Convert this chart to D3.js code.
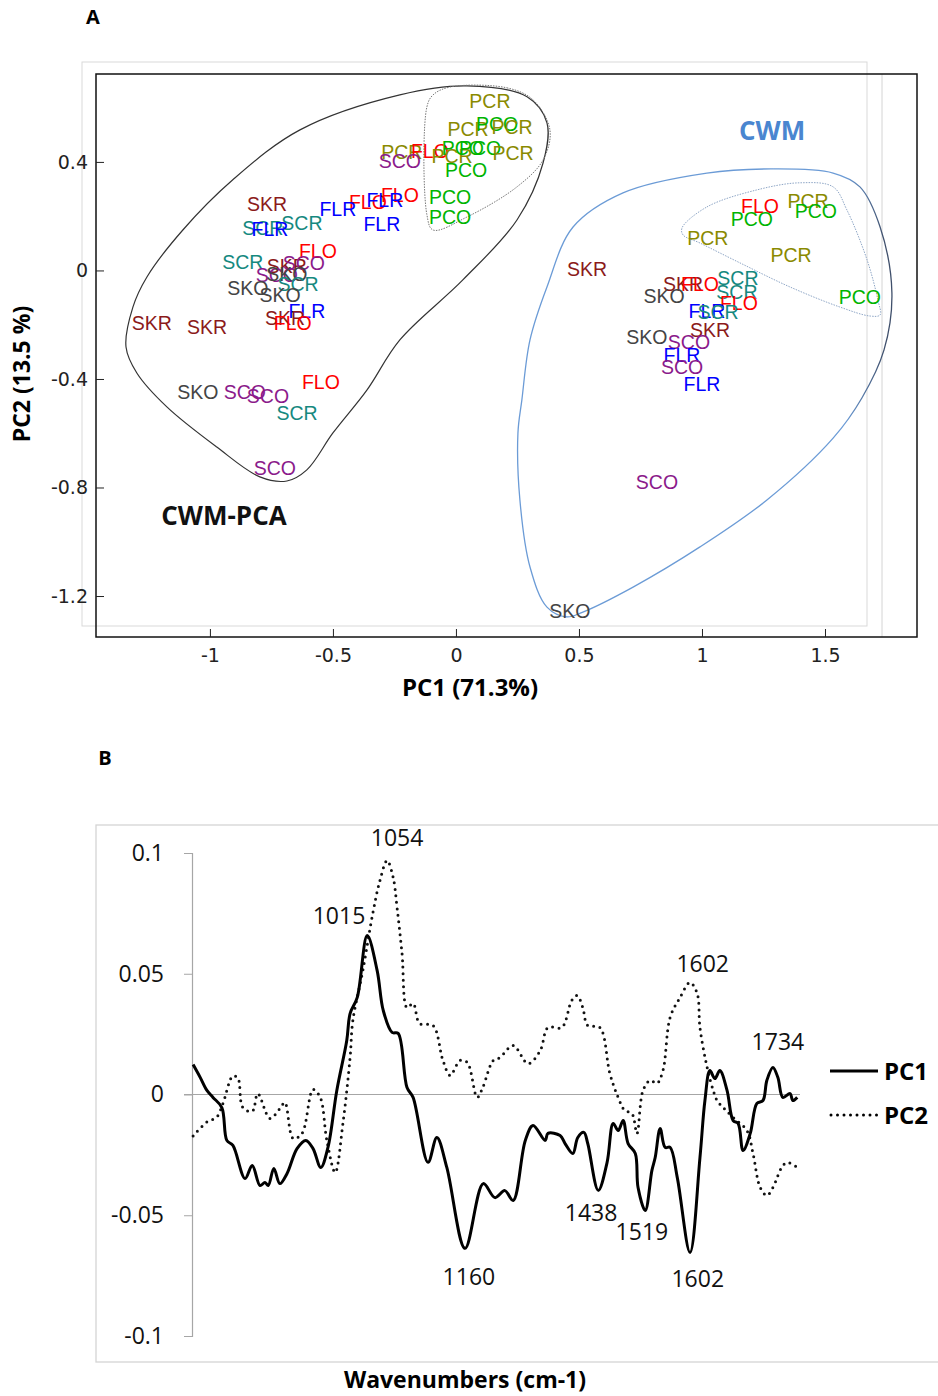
<!DOCTYPE html>
<html>
<head>
<meta charset="utf-8">
<script src="https://cdn.jsdelivr.net/npm/d3@7"></script>
<style>
  body { margin: 0; background: #fff; }
</style>
</head>
<body>
<div id="chart"></div>
<script>
// ---------- panel A : PCA score plot (labels) ----------
var sampleNames = [
  "PCR","PCR","PCO","PCR","PCR","FLO","SCO","PCR","PCO","PCO","PCR","PCO",
  "FLO","FLO","FLR","PCO","PCO","SKR","FLR","FLR","SCR","SCR","FLR","FLO",
  "SCR","SKR","SCO","SCO","SKO","SCR","SKO","SKO","FLR","SKR","FLO","SKR",
  "SKR","FLO","SKO","SCO","SCO","SCR","SCO",
  "FLO","PCR","PCO","PCO","PCR","PCR","SKR","PCO","SKR","FLO","SCR","SCR",
  "SKO","FLO","FLR","SCR","SKR","SKO","SCO","FLR","SCO","FLR","SCO","SKO"
];
var pc1Scores = [
  0.138, 0.049, 0.167, 0.228, -0.220, -0.106, -0.228, -0.016, 0.028, 0.098, 0.232, 0.041,
  -0.228, -0.358, -0.289, -0.024, -0.024, -0.768, -0.480, -0.301, -0.626, -0.785, -0.756, -0.561,
  -0.866, -0.687, -0.618, -0.728, -0.687, -0.642, -0.846, -0.715, -0.606, -0.695, -0.663, -1.236,
  -1.012, -0.549, -1.049, -0.858, -0.764, -0.646, -0.736,
  1.236, 1.431, 1.203, 1.463, 1.024, 1.362, 0.533, 1.642, 0.923, 0.992, 1.146, 1.142,
  0.846, 1.150, 1.020, 1.065, 1.033, 0.776, 0.947, 0.919, 0.919, 1.000, 0.817, 0.463
];
var pc2Scores = [
  0.625, 0.521, 0.540, 0.529, 0.437, 0.441, 0.404, 0.422, 0.452, 0.452, 0.433, 0.371,
  0.278, 0.253, 0.260, 0.271, 0.197, 0.245, 0.227, 0.171, 0.175, 0.157, 0.153, 0.072,
  0.031, 0.017, 0.028, -0.017, -0.013, -0.050, -0.065, -0.090, -0.149, -0.175, -0.194, -0.194,
  -0.208, -0.411, -0.448, -0.448, -0.463, -0.525, -0.728,
  0.238, 0.256, 0.190, 0.219, 0.120, 0.057, 0.006, -0.098, -0.050, -0.050, -0.028, -0.079,
  -0.094, -0.120, -0.149, -0.153, -0.219, -0.245, -0.264, -0.312, -0.356, -0.418, -0.780, -1.255
];
var xTicksA = [-1, -0.5, 0, 0.5, 1, 1.5];
var yTicksA = [0.4, 0, -0.4, -0.8, -1.2];

// outlines drawn round the groups, [pc1, pc2]
var hullCwmPca = [
  [0.045,0.680],[0.289,0.640],[0.370,0.544],[0.354,0.396],[0.248,0.186],[0.028,-0.035],
  [-0.228,-0.256],[-0.362,-0.441],[-0.500,-0.599],[-0.606,-0.735],[-0.687,-0.776],[-0.797,-0.761],
  [-0.972,-0.651],[-1.175,-0.503],[-1.297,-0.378],[-1.341,-0.282],[-1.313,-0.135],[-1.256,-0.024],
  [-1.110,0.149],[-0.907,0.334],[-0.634,0.518],[-0.228,0.647]
];
var hullCwmPcaInner = [
  [-0.024,0.676],[0.207,0.673],[0.313,0.629],[0.382,0.518],[0.354,0.407],[0.248,0.308],
  [0.045,0.197],[-0.093,0.149],[-0.118,0.205],[-0.118,0.603],[-0.093,0.647]
];
var hullCwm = [
  [1.020,0.359],[1.289,0.374],[1.533,0.359],[1.642,0.308],[1.724,0.160],[1.772,-0.083],
  [1.740,-0.293],[1.650,-0.470],[1.533,-0.618],[1.264,-0.846],[0.992,-1.019],
  [0.720,-1.167],[0.516,-1.259],[0.451,-1.277],[0.370,-1.241],[0.301,-1.093],[0.260,-0.846],
  [0.252,-0.599],[0.268,-0.477],[0.301,-0.256],[0.370,-0.061],[0.476,0.160],[0.679,0.286]
];
var hullCwmInner = [
  [0.919,0.157],[1.020,0.234],[1.224,0.297],[1.398,0.323],[1.533,0.308],[1.589,0.223],
  [1.671,0.039],[1.715,-0.109],[1.724,-0.164],[1.683,-0.168],[1.561,-0.135],[1.358,-0.061],
  [1.154,0.028],[0.992,0.101],[0.923,0.131]
];

// ---------- panel B : loadings ----------
var pc1Wavenumbers = [
  702,715,727,738,754,763,774,796,809,823,832,838,848,859,872,890,906,919,933,946,
  962,980,986,999,1017,1035,1046,1062,1073,1089,1100,1127,1143,1161,1194,1227,1248,1266,1281,1303,
  1317,1339,1344,1366,1375,1389,1398,1409,1416,1435,1451,1462,1471,1480,1489,1502,1507,1520,1532,1538,
  1547,1556,1565,1578,1601,1619,1628,1637,1646,1655,1668,1679,1688,1697,1710,1722,1733,1740,1751,1760,
  1769,1782,1787,1795
];
var pc1Loadings = [
  0.0124,0.0070,0.0017,-0.0012,-0.0054,-0.0190,-0.0211,-0.0348,-0.0294,-0.0377,-0.0364,-0.0377,-0.0306,-0.0369,-0.0327,-0.0224,-0.0190,-0.0224,-0.0302,-0.0219,
  0.0017,0.0224,0.0335,0.0402,0.0658,0.0513,0.0348,0.0257,0.0253,0.0029,-0.0012,-0.0281,-0.0178,-0.0302,-0.0637,-0.0369,-0.0427,-0.0398,-0.0439,-0.0190,
  -0.0128,-0.0190,-0.0161,-0.0170,-0.0203,-0.0244,-0.0178,-0.0157,-0.0203,-0.0397,-0.0281,-0.0120,-0.0149,-0.0108,-0.0203,-0.0244,-0.0385,-0.0480,-0.0315,-0.0261,
  -0.0141,-0.0219,-0.0219,-0.0344,-0.0654,-0.0261,-0.0025,0.0099,0.0066,0.0099,0.0017,-0.0108,-0.0120,-0.0232,-0.0161,-0.0037,-0.0025,0.0058,0.0112,0.0070,
  -0.0012,0.0004,-0.0025,-0.0012
];
var pc2Wavenumbers = [
  702,727,745,756,774,783,792,809,819,841,859,868,883,899,919,932,944,959,973,986,
  991,1009,1027,1040,1053,1064,1071,1080,1089,1100,1112,1136,1154,1167,1185,1198,1216,1226,1245,1257,
  1281,1308,1330,1344,1369,1387,1397,1407,1416,1438,1456,1471,1483,1496,1505,1516,1529,1541,1552,1565,
  1583,1601,1614,1619,1632,1643,1650,1661,1679,1704,1715,1728,1740,1751,1767,1777,1795
];
var pc2Loadings = [
  -0.0172,-0.0114,-0.0093,-0.0037,0.0077,0.0068,-0.0054,-0.0070,0.0004,-0.0099,-0.0058,-0.0033,-0.0182,-0.0161,0.0021,-0.0012,-0.0190,-0.0323,-0.0120,0.0153,
  0.0306,0.0513,0.0749,0.0886,0.0969,0.0898,0.0774,0.0584,0.0360,0.0377,0.0294,0.0286,0.0141,0.0079,0.0141,0.0133,-0.0012,0.0029,0.0141,0.0153,
  0.0203,0.0128,0.0182,0.0277,0.0277,0.0389,0.0410,0.0360,0.0286,0.0277,0.0087,-0.0012,-0.0066,-0.0079,-0.0161,0.0017,0.0058,0.0046,0.0099,0.0319,
  0.0402,0.0464,0.0418,0.0277,0.0112,0.0017,-0.0025,-0.0054,-0.0095,-0.0149,-0.0244,-0.0385,-0.0418,-0.0385,-0.0302,-0.0281,-0.0302
];
var yTicksB = [0.1, 0.05, 0, -0.05, -0.1];
var peakLabels = ["1015", "1054", "1160", "1438", "1519", "1602", "1602", "1734"];
var peakWavenumbers = [966, 1071, 1201, 1422, 1514, 1615, 1624, 1760];
var peakValues = [0.0741, 0.1064, -0.0754, -0.0489, -0.0567, -0.0762, 0.0542, 0.0219];

// group colours
var groupColor = {
  SKR: "#8b1a1a", SKO: "#444444", SCO: "#8b1a8b", SCR: "#16897f",
  FLR: "#0000ff", FLO: "#ff0000", PCR: "#8a8a00", PCO: "#00b400"
};

var svg = d3.select("#chart")
  .append("svg")
  .attr("width", 938)
  .attr("height", 1396);

var defs = svg.append("defs");
var grad = defs.append("linearGradient")
  .attr("id", "cwmStroke")
  .attr("gradientUnits", "userSpaceOnUse")
  .attr("x1", 845).attr("x2", 885).attr("y1", 0).attr("y2", 0);
grad.append("stop").attr("offset", "0%").attr("stop-color", "#6b9bd6");
grad.append("stop").attr("offset", "100%").attr("stop-color", "#3f4f6b");

// ================= PANEL A =================
var xA = d3.scaleLinear().domain([-1.463, 1.874]).range([96, 917]);
var yA = d3.scaleLinear().domain([0.724, -1.351]).range([74, 637]);

svg.append("text")
  .attr("x", 93).attr("y", 24)
  .attr("text-anchor", "middle")
  .style("font-family", "'Open Sans', sans-serif")
  .style("font-weight", "bold")
  .style("font-size", "20px")
  .text("A");

// grey frame behind the plot
svg.append("rect")
  .attr("x", 82).attr("y", 62)
  .attr("width", 785).attr("height", 564)
  .attr("fill", "none")
  .attr("stroke", "#d9d9d9");
svg.append("line")
  .attr("x1", 882).attr("x2", 882)
  .attr("y1", 74).attr("y2", 637)
  .attr("stroke", "#d4d4d4");

// black frame
svg.append("rect")
  .attr("x", 96).attr("y", 74)
  .attr("width", 821).attr("height", 563)
  .attr("fill", "none")
  .attr("stroke", "#111")
  .attr("stroke-width", 1.5);

var hullLine = d3.line()
  .x(d => xA(d[0]))
  .y(d => yA(d[1]))
  .curve(d3.curveCatmullRomClosed.alpha(0.5));

svg.append("path")
  .attr("d", hullLine(hullCwmPca))
  .attr("fill", "none")
  .attr("stroke", "#333")
  .attr("stroke-width", 1.2);

svg.append("path")
  .attr("d", hullLine(hullCwmPcaInner))
  .attr("fill", "none")
  .attr("stroke", "#777")
  .attr("stroke-width", 1)
  .attr("stroke-dasharray", "1.5,1.2");

svg.append("path")
  .attr("d", hullLine(hullCwm))
  .attr("fill", "none")
  .attr("stroke", "url(#cwmStroke)")
  .attr("stroke-width", 1.3);

svg.append("path")
  .attr("d", hullLine(hullCwmInner))
  .attr("fill", "none")
  .attr("stroke", "#8ea6c6")
  .attr("stroke-width", 1)
  .attr("stroke-dasharray", "1.5,1.2");

// score labels
svg.append("g")
  .selectAll("text")
  .data(sampleNames)
  .enter()
  .append("text")
  .attr("x", (d, i) => xA(pc1Scores[i]))
  .attr("y", (d, i) => yA(pc2Scores[i]))
  .attr("dy", "0.36em")
  .attr("text-anchor", "middle")
  .attr("fill", d => groupColor[d])
  .style("font-family", "'Liberation Sans', Arial, sans-serif")
  .style("font-size", "19.5px")
  .text(d => d);

// group titles
svg.append("text")
  .attr("x", xA(1.285)).attr("y", yA(0.514))
  .attr("dy", "0.36em")
  .attr("text-anchor", "middle")
  .attr("fill", "#4a86d0")
  .style("font-family", "'Open Sans', sans-serif")
  .style("font-weight", "bold")
  .style("font-size", "26px")
  .text("CWM");

svg.append("text")
  .attr("x", xA(-0.943)).attr("y", yA(-0.905))
  .attr("dy", "0.36em")
  .attr("text-anchor", "middle")
  .attr("fill", "#111")
  .style("font-family", "'Open Sans', sans-serif")
  .style("font-weight", "bold")
  .style("font-size", "26px")
  .text("CWM-PCA");

// axes (ticks point inwards)
var bottomAxisA = d3.axisBottom(xA)
  .tickValues(xTicksA)
  .tickSize(-8)
  .tickPadding(12)
  .tickFormat(d => String(d));
var gxA = svg.append("g")
  .attr("transform", "translate(0,637)")
  .call(bottomAxisA);

var leftAxisA = d3.axisLeft(yA)
  .tickValues(yTicksA)
  .tickSize(-8)
  .tickPadding(8)
  .tickFormat(d => String(d));
var gyA = svg.append("g")
  .attr("transform", "translate(96,0)")
  .call(leftAxisA);

[gxA, gyA].forEach(function(g) {
  g.select(".domain").remove();
  g.selectAll(".tick line").attr("stroke", "#222");
  g.selectAll(".tick text")
    .attr("fill", "#222")
    .style("font-family", "'DejaVu Sans', Verdana, sans-serif")
    .style("font-size", "19px");
});

svg.append("text")
  .attr("x", 470).attr("y", 687)
  .attr("dy", "0.36em")
  .attr("text-anchor", "middle")
  .style("font-family", "'Open Sans', sans-serif")
  .style("font-weight", "bold")
  .style("font-size", "24px")
  .text("PC1 (71.3%)");

svg.append("text")
  .attr("transform", "translate(22,374) rotate(-90)")
  .attr("dy", "0.36em")
  .attr("text-anchor", "middle")
  .style("font-family", "'Open Sans', sans-serif")
  .style("font-weight", "bold")
  .style("font-size", "23px")
  .text("PC2 (13.5 %)");

// ================= PANEL B =================
var xB = d3.scaleLinear().domain([700, 1800]).range([192, 800]);
var yB = d3.scaleLinear().domain([-0.1, 0.1]).range([1336, 853]);

svg.append("text")
  .attr("x", 105).attr("y", 765)
  .attr("text-anchor", "middle")
  .style("font-family", "'Open Sans', sans-serif")
  .style("font-weight", "bold")
  .style("font-size", "20px")
  .text("B");

svg.append("rect")
  .attr("x", 96).attr("y", 825)
  .attr("width", 860).attr("height", 537)
  .attr("fill", "none")
  .attr("stroke", "#d4d4d4")
  .attr("stroke-width", 1.3);

// zero line
svg.append("line")
  .attr("x1", 184).attr("x2", xB(1800))
  .attr("y1", yB(0)).attr("y2", yB(0))
  .attr("stroke", "#a6a6a6")
  .attr("stroke-width", 1.2);

var leftAxisB = d3.axisLeft(yB)
  .tickValues(yTicksB)
  .tickSize(8)
  .tickPadding(20)
  .tickFormat(d => String(d));
var gyB = svg.append("g")
  .attr("transform", "translate(192,0)")
  .call(leftAxisB);
gyB.select(".domain")
  .attr("stroke", "#a6a6a6")
  .attr("stroke-width", 1.2);
gyB.selectAll(".tick line").attr("stroke", "#a6a6a6");
gyB.selectAll(".tick text")
  .attr("fill", "#111")
  .style("font-family", "'Open Sans', sans-serif")
  .style("font-size", "23px");

var pc1Series = pc1Wavenumbers.map((w, i) => [w, pc1Loadings[i]]);
var pc2Series = pc2Wavenumbers.map((w, i) => [w, pc2Loadings[i]]);

var loadLine = d3.line()
  .x(d => xB(d[0]))
  .y(d => yB(d[1]))
  .curve(d3.curveCatmullRom.alpha(0.5));

svg.append("path")
  .attr("d", loadLine(pc2Series))
  .attr("fill", "none")
  .attr("stroke", "#111")
  .attr("stroke-width", 3)
  .attr("stroke-linecap", "round")
  .attr("stroke-dasharray", "0,6.5");

svg.append("path")
  .attr("d", loadLine(pc1Series))
  .attr("fill", "none")
  .attr("stroke", "#000")
  .attr("stroke-width", 3)
  .attr("stroke-linejoin", "round");

// peak annotations
svg.append("g")
  .selectAll("text")
  .data(peakLabels)
  .enter()
  .append("text")
  .attr("x", (d, i) => xB(peakWavenumbers[i]))
  .attr("y", (d, i) => yB(peakValues[i]))
  .attr("dy", "0.36em")
  .attr("text-anchor", "middle")
  .attr("fill", "#111")
  .style("font-family", "'Open Sans', sans-serif")
  .style("font-size", "23px")
  .text(d => d);

// legend
var legend = svg.append("g");
legend.append("line")
  .attr("x1", 830).attr("x2", 878)
  .attr("y1", 1071).attr("y2", 1071)
  .attr("stroke", "#000")
  .attr("stroke-width", 3);
legend.append("line")
  .attr("x1", 831).attr("x2", 878)
  .attr("y1", 1115).attr("y2", 1115)
  .attr("stroke", "#000")
  .attr("stroke-width", 3)
  .attr("stroke-linecap", "round")
  .attr("stroke-dasharray", "0,6.5");
legend.selectAll("text")
  .data(["PC1", "PC2"])
  .enter()
  .append("text")
  .attr("x", 884)
  .attr("y", (d, i) => 1071 + i * 44)
  .attr("dy", "0.36em")
  .style("font-family", "'Open Sans', sans-serif")
  .style("font-weight", "bold")
  .style("font-size", "24px")
  .text(d => d);

svg.append("text")
  .attr("x", 465).attr("y", 1380)
  .attr("dy", "0.36em")
  .attr("text-anchor", "middle")
  .style("font-family", "'Open Sans', sans-serif")
  .style("font-weight", "bold")
  .style("font-size", "23px")
  .text("Wavenumbers (cm-1)");
</script>
</body>
</html>
